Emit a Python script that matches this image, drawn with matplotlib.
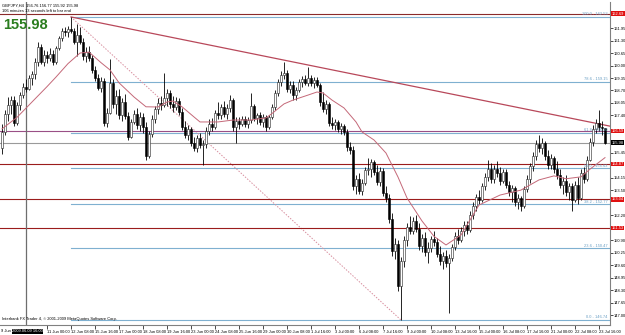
import numpy as np
import matplotlib
matplotlib.use('Agg')
import matplotlib.pyplot as plt
import matplotlib.transforms as mtransforms

# GBPJPY H4 bars
opens = [155.70, 156.55, 157.45, 157.95, 158.20, 157.00, 157.95, 158.45, 158.90, 158.80,
         159.35, 159.55, 160.20, 160.95, 160.20, 160.55, 160.40, 160.60, 160.20, 160.90,
         161.45, 161.80, 161.75, 161.90, 161.80, 161.25, 161.60, 161.20, 160.50, 160.70,
         160.40, 159.75, 159.35, 158.85, 159.20, 157.00, 157.55, 159.10, 158.00, 158.40,
         157.40, 158.10, 157.35, 156.30, 157.05, 157.50, 156.90, 157.30, 156.80, 155.30,
         156.45, 157.20, 157.75, 158.05, 157.95, 158.30, 158.55, 158.00, 157.85, 158.15,
         157.60, 156.80, 156.40, 156.70, 155.95, 155.70, 156.20, 155.85, 155.90, 156.60,
         156.95, 156.80, 157.55, 157.40, 157.85, 157.50, 157.80, 158.20, 156.80, 157.10,
         156.95, 157.20, 156.95, 157.15, 157.90, 157.25, 157.40, 157.05, 157.30, 156.80,
         157.30, 157.85, 158.55, 159.15, 159.50, 159.60, 158.80, 159.00, 158.45, 158.75,
         159.15, 159.30, 159.10, 159.35, 159.10, 159.25, 159.00, 158.10, 157.75, 158.00,
         157.00, 156.90, 157.05, 156.70, 156.85, 156.55, 155.75, 155.60, 153.70, 154.10,
         153.45, 153.90, 154.55, 154.60, 154.95, 154.45, 153.95, 154.50, 153.35, 153.10,
         152.00, 150.35, 150.70, 148.50, 149.80, 150.90, 151.60, 151.40, 151.90, 151.50,
         150.60, 151.00, 150.30, 150.50, 150.95, 150.80, 150.20, 149.80, 150.10, 149.70,
         149.95, 150.55, 151.10, 150.90, 151.40, 151.70, 151.45, 152.20, 152.70, 153.15,
         153.00, 153.70, 154.20, 154.60, 154.10, 154.60, 154.40, 154.00, 154.45, 153.80,
         153.40, 153.60, 152.90, 153.10, 152.70, 153.55, 154.10, 154.75, 155.30, 155.90,
         155.70, 155.95, 155.30, 154.80, 155.20, 154.60, 154.30, 153.80, 154.00, 153.40,
         153.70, 153.00, 153.80, 153.10, 154.40, 154.10, 155.10, 156.00, 156.70, 157.00,
         156.80, 156.76]
highs = [156.95, 157.70, 158.35, 158.40, 158.40, 158.10, 158.60, 159.10, 159.30, 159.50,
         159.70, 160.40, 161.20, 161.10, 160.80, 160.75, 160.90, 160.80, 161.00, 161.55,
         161.95, 162.00, 162.05, 162.53, 161.95, 162.15, 162.00, 161.45, 160.95, 161.00,
         160.55, 159.95, 159.55, 159.40, 159.35, 157.80, 160.35, 159.30, 158.70, 158.80,
         158.30, 158.50, 157.60, 157.20, 157.70, 157.80, 157.60, 157.55, 157.05, 156.60,
         157.40, 157.90, 158.30, 158.40, 159.60, 158.80, 158.70, 158.40, 158.35, 158.30,
         157.80, 157.10, 156.90, 156.80, 156.30, 156.40, 156.50, 156.10, 156.80, 157.20,
         157.25, 157.70, 158.10, 158.00, 158.15, 158.00, 158.45, 158.30, 157.30, 157.30,
         157.35, 157.35, 157.30, 158.55, 158.00, 157.55, 157.60, 157.45, 157.40, 157.40,
         158.00, 158.70, 159.30, 159.70, 160.20, 159.75, 159.20, 159.20, 158.90, 159.30,
         159.45, 159.50, 159.90, 159.50, 159.40, 159.40, 159.10, 158.60, 158.20, 158.10,
         157.30, 157.20, 157.15, 157.00, 156.95, 156.70, 156.00, 155.80, 154.30, 154.40,
         154.10, 154.70, 155.20, 155.15, 155.10, 154.80, 154.70, 154.65, 153.70, 153.30,
         152.30, 151.00, 150.90, 150.00, 151.10, 151.80, 152.15, 152.10, 152.20, 151.80,
         151.20, 151.30, 150.80, 151.10, 151.40, 151.00, 150.60, 150.30, 150.40, 150.20,
         150.70, 151.30, 151.50, 151.60, 151.90, 151.90, 152.40, 152.90, 153.30, 153.50,
         153.90, 154.40, 155.10, 154.90, 154.80, 155.00, 154.70, 154.60, 154.60, 154.00,
         153.80, 153.70, 153.30, 153.20, 153.70, 154.30, 154.90, 155.50, 156.10, 156.40,
         156.20, 156.05, 155.60, 155.40, 155.30, 155.00, 154.60, 154.20, 154.30, 153.90,
         153.90, 154.00, 154.20, 154.60, 154.70, 155.30, 156.20, 156.90, 157.20, 157.70,
         157.10, 156.77]
lows = [155.40, 156.40, 157.10, 157.50, 156.85, 156.90, 157.70, 158.30, 158.60, 158.70,
        159.00, 159.30, 160.00, 160.10, 160.00, 160.15, 160.25, 160.05, 160.10, 160.80,
        161.30, 161.55, 161.50, 161.70, 161.10, 160.50, 161.10, 160.30, 160.20, 160.25,
        159.60, 159.20, 158.70, 158.60, 156.85, 156.80, 157.45, 157.80, 157.50, 157.20,
        157.10, 157.20, 156.10, 156.20, 156.95, 156.70, 156.60, 156.50, 155.08, 155.20,
        156.30, 157.00, 157.50, 157.70, 157.85, 157.90, 157.80, 157.60, 157.70, 157.40,
        156.65, 156.20, 156.10, 155.80, 155.55, 155.50, 155.70, 154.82, 155.70, 156.40,
        156.60, 156.70, 157.20, 157.20, 157.30, 157.20, 157.60, 156.60, 155.95, 156.70,
        156.85, 156.80, 156.75, 157.00, 157.10, 156.95, 156.90, 156.80, 156.60, 156.70,
        157.20, 157.70, 158.40, 158.95, 159.30, 158.60, 158.55, 158.20, 158.20, 158.60,
        158.90, 159.00, 158.95, 158.95, 158.85, 158.90, 157.90, 157.60, 157.50, 156.85,
        156.70, 156.65, 156.55, 156.45, 156.40, 155.55, 155.40, 153.50, 153.30, 153.30,
        153.25, 153.80, 154.30, 154.20, 154.30, 153.80, 153.70, 153.20, 152.90, 151.80,
        150.10, 149.90, 148.25, 146.74, 149.50, 150.60, 151.20, 151.20, 151.30, 150.40,
        150.30, 150.10, 149.70, 150.30, 150.60, 150.00, 149.60, 149.40, 149.50, 147.10,
        149.80, 150.40, 150.70, 150.80, 151.10, 151.20, 151.30, 152.00, 152.40, 152.80,
        152.90, 153.50, 154.00, 153.90, 153.90, 154.20, 153.80, 153.90, 153.60, 153.20,
        152.90, 152.70, 152.50, 152.40, 152.60, 153.40, 153.90, 154.50, 155.10, 155.50,
        155.40, 155.10, 154.60, 154.60, 154.40, 154.10, 153.60, 153.30, 153.20, 153.00,
        152.40, 152.90, 152.80, 153.00, 153.90, 154.00, 155.00, 155.80, 156.50, 156.60,
        156.40, 155.92]
closes = [156.55, 157.45, 157.95, 158.20, 157.00, 157.95, 158.45, 158.90, 158.80, 159.35,
          159.55, 160.20, 160.95, 160.20, 160.55, 160.40, 160.60, 160.20, 160.90, 161.45,
          161.80, 161.75, 161.90, 161.80, 161.25, 161.60, 161.20, 160.50, 160.70, 160.40,
          159.75, 159.35, 158.85, 159.20, 157.00, 157.55, 159.10, 158.00, 158.40, 157.40,
          158.10, 157.35, 156.30, 157.05, 157.50, 156.90, 157.30, 156.80, 155.30, 156.45,
          157.20, 157.75, 158.05, 157.95, 158.30, 158.55, 158.00, 157.85, 158.15, 157.60,
          156.80, 156.40, 156.70, 155.95, 155.70, 156.20, 155.85, 155.90, 156.60, 156.95,
          156.80, 157.55, 157.40, 157.85, 157.50, 157.80, 158.20, 156.80, 157.10, 156.95,
          157.20, 156.95, 157.15, 157.90, 157.25, 157.40, 157.05, 157.30, 156.80, 157.30,
          157.85, 158.55, 159.15, 159.50, 159.60, 158.80, 159.00, 158.45, 158.75, 159.15,
          159.30, 159.10, 159.35, 159.10, 159.25, 159.00, 158.10, 157.75, 158.00, 157.00,
          156.90, 157.05, 156.70, 156.85, 156.55, 155.75, 155.60, 153.70, 154.10, 153.45,
          153.90, 154.55, 154.60, 154.95, 154.45, 153.95, 154.50, 153.35, 153.10, 152.00,
          150.35, 150.70, 148.50, 149.80, 150.90, 151.60, 151.40, 151.90, 151.50, 150.60,
          151.00, 150.30, 150.50, 150.95, 150.80, 150.20, 149.80, 150.10, 149.70, 149.95,
          150.55, 151.10, 150.90, 151.40, 151.70, 151.45, 152.20, 152.70, 153.15, 153.00,
          153.70, 154.20, 154.60, 154.10, 154.60, 154.40, 154.00, 154.45, 153.80, 153.40,
          153.60, 152.90, 153.10, 152.70, 153.55, 154.10, 154.75, 155.30, 155.90, 155.70,
          155.95, 155.30, 154.80, 155.20, 154.60, 154.30, 153.80, 154.00, 153.40, 153.70,
          153.00, 153.80, 153.10, 154.40, 154.10, 155.10, 156.00, 156.70, 157.00, 156.80,
          156.76, 155.98]

# moving average, read at some bars
ma_idx = [0, 5, 10, 15, 18, 22, 26, 29, 33, 36, 39, 44, 48, 52, 55, 57, 60, 64, 66, 72,
          77, 83, 88, 90, 94, 97, 102, 105, 107, 110, 114, 118, 120, 124, 128, 132, 135,
          140, 144, 148, 153, 159, 166, 173, 179, 184, 188, 193, 196, 201]
ma_val = [156.70, 157.30, 158.10, 158.90, 159.40, 160.10, 160.65, 160.70, 160.15, 159.77,
          159.10, 158.36, 157.85, 157.84, 158.10, 158.15, 157.85, 157.32, 157.06, 157.06,
          157.16, 157.16, 157.27, 157.50, 158.00, 158.20, 158.46, 158.62, 158.57, 158.20,
          157.79, 157.06, 156.54, 156.12, 155.44, 154.19, 153.10, 151.90, 151.10, 150.65,
          151.17, 152.73, 153.25, 153.51, 154.04, 154.25, 154.10, 154.20, 154.60, 155.20]

# horizontal levels drawn by hand
level_prices = [162.69, 156.59, 154.87, 153.04, 151.53]
level_colors = ['#8b2a2a', '#9a4f86', '#9b1c1c', '#9b1c1c', '#9b1c1c']
bid = 155.98

# fibo from the top bar to the bottom bar
fib_levels = [0.0, 23.6, 38.2, 50.0, 61.8, 78.6, 100.0]
fib_from, fib_to = 23, 133

# trend line
trend_x = [23, 202.7]
trend_y = [162.53, 156.84]

crosshair_bar = 8
time_pos = [15 + 8 * k for k in range(24)]
time_labels = ['11 Jun 00:00', '12 Jun 08:00', '15 Jun 16:00', '17 Jun 00:00', '18 Jun 08:00',
               '19 Jun 16:00', '23 Jun 00:00', '24 Jun 08:00', '25 Jun 16:00', '29 Jun 00:00',
               '30 Jun 08:00', '1 Jul 16:00', '3 Jul 00:00', '6 Jul 08:00', '7 Jul 16:00',
               '9 Jul 00:00', '10 Jul 08:00', '13 Jul 16:00', '15 Jul 00:00', '16 Jul 08:00',
               '17 Jul 16:00', '21 Jul 00:00', '22 Jul 08:00', '23 Jul 16:00']
price_ticks = [round(157.40 + 0.65 * k, 2) for k in range(-16, 10)]

o = np.array(opens); h = np.array(highs); l = np.array(lows); c = np.array(closes)
x = np.arange(len(c))
up = c >= o

fs = 2.9  # MT4 tiny font
plt.rcParams['font.family'] = ['Liberation Sans', 'DejaVu Sans']
fig = plt.figure(figsize=(6.25, 3.35), dpi=100)
ax = fig.add_axes([0, 10 / 335, 610 / 625, 323 / 335])
ax.set_xlim(-0.67, 202.67)
ax.set_ylim(146.48, 163.31)

# fibo lines
lo = l[fib_to]; hi = h[fib_from]
for lv in fib_levels:
    p = lo + lv / 100 * (hi - lo)
    ax.plot([fib_from, 202.67], [p, p], color='#7fb0d0', lw=0.8, zorder=1)
    ax.text(201.8, p + 0.03, '%.1f - %.2f' % (lv, p), color='#6a9fc4', fontsize=fs,
            ha='right', va='bottom', zorder=5)
ax.plot([fib_from, fib_to], [hi, lo], color='#d88f9f', lw=0.7, ls=(0, (1.5, 1.5)), zorder=1)

for p, col in zip(level_prices, level_colors):
    ax.axhline(p, color=col, lw=0.8, zorder=1)
ax.axhline(bid, color='#9a9a9a', lw=0.8, zorder=1)
ax.axvline(crosshair_bar, color='#6e6e6e', lw=0.9, zorder=1)

ax.plot(trend_x, trend_y, color='#b8485a', lw=0.9, zorder=2)
ax.plot(ma_idx, ma_val, color='#c46878', lw=0.7, zorder=4)

# candles
ax.vlines(x, l, h, color='black', lw=0.6, zorder=2)
ax.bar(x[up], np.maximum(c - o, 0.02)[up], bottom=o[up], width=0.62, color='white',
       edgecolor='#202020', lw=0.4, zorder=3)
ax.bar(x[~up], (o - c)[~up], bottom=c[~up], width=0.62, color='black',
       edgecolor='black', lw=0.4, zorder=3)

# axes look
for s in ['left', 'top']:
    ax.spines[s].set_visible(False)
ax.spines['right'].set_color('#808080')
ax.spines['bottom'].set_color('#808080')
ax.spines['right'].set_linewidth(0.8)
ax.spines['bottom'].set_linewidth(0.8)
ax.yaxis.tick_right()
# scale labels hidden behind the level boxes are left out
boxed = level_prices + [bid]
shown = [t for t in price_ticks if min(abs(t - b) for b in boxed) > 0.3 and t < 163.1]
ax.set_yticks(shown)
ax.set_yticklabels(['%.2f' % t for t in shown], fontsize=fs)
ax.tick_params(axis='y', length=2, width=0.5, pad=1.0, colors='black')
ax.set_xticks(time_pos)
ax.set_xticklabels(time_labels, fontsize=fs, ha='left')
ax.tick_params(axis='x', length=3, width=0.5, pad=0.5)

tr = mtransforms.blended_transform_factory(ax.transAxes, ax.transData)
for p in level_prices:
    ax.text(1.003, p, '%.2f' % p, transform=tr, fontsize=fs, color='white', va='center',
            ha='left', bbox=dict(boxstyle='square,pad=0.1', fc='#e01010', ec='none'),
            clip_on=False, zorder=6)
ax.text(1.003, bid, '%.2f' % bid, transform=tr, fontsize=fs, color='white', va='center',
        ha='left', bbox=dict(boxstyle='square,pad=0.1', fc='black', ec='none'),
        clip_on=False, zorder=6)

# texts
ax.text(-0.3, 146.25, '9 Jun', fontsize=fs, ha='left', va='top', clip_on=False)
ax.text(crosshair_bar + 0.5, 146.25, '2009.06.09 16:00', fontsize=fs, color='white',
        ha='center', va='top', bbox=dict(boxstyle='square,pad=0.1', fc='black', ec='none'),
        clip_on=False, zorder=7)
ax.text(0.004, 0.995, 'GBPJPY,H4  %.2f %.2f %.2f %.2f' % (o[-1], h[-1], l[-1], c[-1]),
        transform=ax.transAxes, fontsize=fs, va='top')
ax.text(0.004, 0.977, '106 minutes 13 seconds left to bar end', transform=ax.transAxes,
        fontsize=fs, va='top')
ax.text(0.005, 0.95, '%.2f' % c[-1], transform=ax.transAxes, fontsize=10.5,
        fontweight='bold', color='#2a7d1e', va='top')
ax.text(0.004, 0.012, 'Interbank FX Trader 4, \u00a9 2001-2009 MetaQuotes Software Corp.',
        transform=ax.transAxes, fontsize=fs, va='bottom')

fig.savefig('out.png', dpi=100, facecolor='white')
